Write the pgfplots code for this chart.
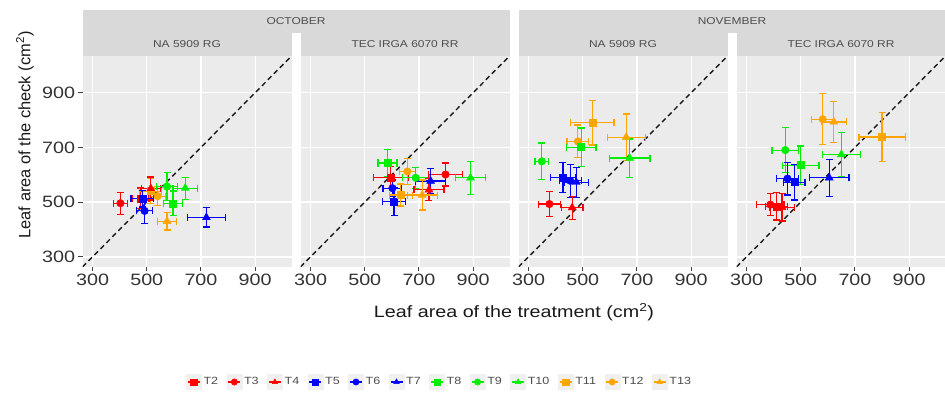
\documentclass[border=0pt]{standalone}
\usepackage{fontspec}
\setmainfont{Liberation Sans}[FakeStretch=1.2]
\newfontfamily\ytfont{Liberation Sans}
\usepackage{pgfplots}
\pgfplotsset{compat=1.18}
\definecolor{pbg}{HTML}{EBEBEB}
\definecolor{stripc}{HTML}{D9D9D9}
\definecolor{tred}{HTML}{FF0000}
\definecolor{tblue}{HTML}{0000FF}
\definecolor{tgreen}{HTML}{00EE00}
\definecolor{torange}{HTML}{FFA500}
\definecolor{txt}{HTML}{4D4D4D}
\tikzset{
  m2/.style={color=tred, mark=square*, mark size=3.5bp},
  m3/.style={color=tred, mark=*, mark size=3.8bp},
  m4/.style={color=tred, mark=triangle*, mark size=4.6bp},
  m5/.style={color=tblue, mark=square*, mark size=3.5bp},
  m6/.style={color=tblue, mark=*, mark size=3.8bp},
  m7/.style={color=tblue, mark=triangle*, mark size=4.6bp},
  m8/.style={color=tgreen, mark=square*, mark size=3.5bp},
  m9/.style={color=tgreen, mark=*, mark size=3.8bp},
  m10/.style={color=tgreen, mark=triangle*, mark size=4.6bp},
  m11/.style={color=torange, mark=square*, mark size=3.5bp},
  m12/.style={color=torange, mark=*, mark size=3.8bp},
  m13/.style={color=torange, mark=triangle*, mark size=4.6bp},
}
\pgfplotsset{
  ser/.style={only marks, forget plot, mark options={solid},
    error bars/x dir=both, error bars/x explicit, error bars/y dir=both, error bars/y explicit,
    error bars/error bar style={color=#1, line width=1.2bp, solid},
    error bars/error mark=|,
    error bars/error mark options={color=#1, line width=1.2bp, mark size=3.5bp}},
  s2/.style={ser=tred, m2}, s3/.style={ser=tred, m3}, s4/.style={ser=tred, m4},
  s5/.style={ser=tblue, m5}, s6/.style={ser=tblue, m6}, s7/.style={ser=tblue, m7},
  s8/.style={ser=tgreen, m8}, s9/.style={ser=tgreen, m9}, s10/.style={ser=tgreen, m10},
  s11/.style={ser=torange, m11}, s12/.style={ser=torange, m12}, s13/.style={ser=torange, m13},
  panel/.style={
    scale only axis, width=209bp, height=211bp,
    xmin=263, xmax=1034, ymin=263, ymax=1034,
    xtick={300,500,700,900}, ytick={300,500,700,900},
    axis background/.style={fill=pbg},
    grid=major, major grid style={white, line width=1.3bp},
    axis line style={draw=none},
    tick align=outside, tick pos=left, major tick length=4bp,
    every tick/.style={black!75, line width=1bp},
    tick label style={font=\fontsize{16.5}{16.5}\selectfont, text=black!80},
    /pgf/number format/assume math mode=true,
    anchor=south west,
  },
  inner/.style={yticklabels={}, ytick style={draw=none}},
  diag/.style={black!90, dash pattern=on 5bp off 3.5bp, line width=1.4bp, forget plot},
}
\begin{document}
\begin{tikzpicture}
\useasboundingbox (0,0) rectangle (945bp,394bp);
% strips
\fill[stripc] (82.5bp,361bp) rectangle (509.5bp,384bp);
\fill[stripc] (518.5bp,361bp) rectangle (945.5bp,384bp);
\fill[stripc] (82.5bp,338bp) rectangle (291.5bp,361bp);
\fill[stripc] (300.5bp,338bp) rectangle (509.5bp,361bp);
\fill[stripc] (518.5bp,338bp) rectangle (727.5bp,361bp);
\fill[stripc] (736.5bp,338bp) rectangle (945.5bp,361bp);
\begin{scope}[every node/.style={font=\fontsize{10}{10}\selectfont, text=txt}]
\node at (296bp,372.5bp) {OCTOBER};
\node at (732bp,372.5bp) {NOVEMBER};
\node at (187bp,349.5bp) {NA 5909 RG};
\node at (405bp,349.5bp) {TEC IRGA 6070 RR};
\node at (623bp,349.5bp) {NA 5909 RG};
\node at (841bp,349.5bp) {TEC IRGA 6070 RR};
\end{scope}
% Panel 1: October, NA 5909 RG
\begin{axis}[panel, at={(82.5bp,127bp)},
  legend image code/.code={\fill[black!6] (0bp,-7.5bp) rectangle (15bp,7.5bp);
    \draw[#1, line width=1.2bp] (1.5bp,0bp) -- (13.5bp,0bp);
    \draw[#1, mark size=3.2bp] plot coordinates {(7.5bp,0bp)};},
  legend style={at={(axis description cs:0.495,-0.545)}, anchor=west, draw=none, fill=none,
    inner sep=0pt, font=\fontsize{10.5}{11}\selectfont, text=txt,
    /tikz/every even column/.append style={column sep=6.5bp}},
  legend columns=12, legend cell align=left]
\addplot[diag] coordinates {(263,263) (1034,1034)};
\addplot[s3] coordinates {(403,496) +- (25,40)};
\addplot[s2] coordinates {(478,514) +- (30,38)};
\addplot[s11] coordinates {(514,540) +- (40,45)};
\addplot[s12] coordinates {(540,522) +- (30,35)};
\addplot[s4] coordinates {(515,550) +- (35,42)};
\addplot[s5] coordinates {(484,512) +- (42,30)};
\addplot[s6] coordinates {(492,468) +- (30,45)};
\addplot[s7] coordinates {(720,444) +- (70,35)};
\addplot[s8] coordinates {(597,496) +- (35,45)};
\addplot[s9] coordinates {(575,557) +- (38,50)};
\addplot[s10] coordinates {(642,551) +- (45,40)};
\addplot[s13] coordinates {(575,430) +- (35,32)};
\addlegendimage{only marks, m2}\addlegendentry{T2}
\addlegendimage{only marks, m3}\addlegendentry{T3}
\addlegendimage{only marks, m4}\addlegendentry{T4}
\addlegendimage{only marks, m5}\addlegendentry{T5}
\addlegendimage{only marks, m6}\addlegendentry{T6}
\addlegendimage{only marks, m7}\addlegendentry{T7}
\addlegendimage{only marks, m8}\addlegendentry{T8}
\addlegendimage{only marks, m9}\addlegendentry{T9}
\addlegendimage{only marks, m10}\addlegendentry{T10}
\addlegendimage{only marks, m11}\addlegendentry{T11}
\addlegendimage{only marks, m12}\addlegendentry{T12}
\addlegendimage{only marks, m13}\addlegendentry{T13}
\end{axis}
% Panel 2: October, TEC IRGA 6070 RR
\begin{axis}[panel, inner, at={(300.5bp,127bp)}]
\addplot[diag] coordinates {(263,263) (1034,1034)};
\addplot[s8] coordinates {(584,643) +- (35,48)};
\addplot[s12] coordinates {(657,612) +- (30,48)};
\addplot[s2] coordinates {(596,589) +- (64,40)};
\addplot[s9] coordinates {(688,589) +- (50,38)};
\addplot[s3] coordinates {(798,601) +- (62,42)};
\addplot[s10] coordinates {(890,589) +- (55,60)};
\addplot[s7] coordinates {(743,577) +- (55,45)};
\addplot[s4] coordinates {(737,545) +- (55,40)};
\addplot[s6] coordinates {(602,551) +- (35,30)};
\addplot[s5] coordinates {(608,502) +- (42,50)};
\addplot[s11] coordinates {(633,526) +- (42,40)};
\addplot[s13] coordinates {(712,526) +- (55,55)};
\end{axis}
% Panel 3: November, NA 5909 RG
\begin{axis}[panel, inner, at={(518.5bp,127bp)}]
\addplot[diag] coordinates {(263,263) (1034,1034)};
\addplot[s11] coordinates {(535,790) +- (80,81)};
\addplot[s12] coordinates {(482,722) +- (40,60)};
\addplot[s8] coordinates {(494,701) +- (55,70)};
\addplot[s13] coordinates {(660,737) +- (70,85)};
\addplot[s9] coordinates {(349,649) +- (25,67)};
\addplot[s10] coordinates {(673,661) +- (75,70)};
\addplot[s5] coordinates {(427,590) +- (45,55)};
\addplot[s6] coordinates {(454,578) +- (40,60)};
\addplot[s7] coordinates {(476,573) +- (45,55)};
\addplot[s3] coordinates {(377,493) +- (40,45)};
\addplot[s4] coordinates {(461,480) +- (40,42)};
\end{axis}
% Panel 4: November, TEC IRGA 6070 RR
\begin{axis}[panel, inner, at={(736.5bp,127bp)}]
\addplot[diag] coordinates {(263,263) (1034,1034)};
\addplot[s12] coordinates {(581,803) +- (40,93)};
\addplot[s13] coordinates {(622,793) +- (46,75)};
\addplot[s11] coordinates {(800,738) +- (85,90)};
\addplot[s9] coordinates {(443,690) +- (49,82)};
\addplot[s10] coordinates {(650,674) +- (70,80)};
\addplot[s8] coordinates {(500,635) +- (67,70)};
\addplot[s6] coordinates {(451,586) +- (40,60)};
\addplot[s5] coordinates {(476,573) +- (40,65)};
\addplot[s7] coordinates {(605,589) +- (73,67)};
\addplot[s3] coordinates {(388,491) +- (50,40)};
\addplot[s2] coordinates {(410,485) +- (40,50)};
\addplot[s4] coordinates {(431,481) +- (45,50)};
\end{axis}
% axis titles
\node[font=\fontsize{16.5}{17}\selectfont, text=black!90] at (514bp,82bp) {Leaf area of the treatment (cm\textsuperscript{2})};
\node[font=\ytfont\fontsize{16.5}{17}\selectfont, text=black!90, rotate=90] at (25bp,259bp) {Leaf area of the check (cm\textsuperscript{2})};
\end{tikzpicture}
\end{document}
